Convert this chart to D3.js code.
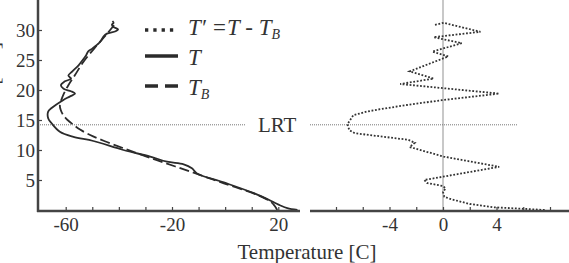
<!DOCTYPE html>
<html><head><meta charset="utf-8">
<script src="https://cdn.jsdelivr.net/npm/d3@7"></script>
<style>
html,body{margin:0;padding:0;background:#fff;}
svg{display:block;}
</style></head>
<body>
<script>
// ---- data ----
// Observed temperature T [C] vs height [km]
const heightT = [0,0.3,0.8,1.3,2.8,4.6,6.1,6.95,7.6,8.05,8.9,10.0,11.5,12.2,13.05,14.45,15.3,16.4,17.0,18.3,18.9,19.4,19.8,20.2,20.8,21.4,21.9,22.4,23.1,24.2,25.0,25.8,26.4,26.9,27.8,28.3,28.9,29.4,29.8,30.1,30.5,30.9,31.2,31.5];
const tempT   = [27.2,23.4,20.6,18.3,10.8,-0.5,-10.6,-12.5,-15.6,-21.9,-28.2,-38.3,-49.6,-57.1,-62.2,-65.3,-66.6,-66.6,-65.3,-61.0,-58.5,-56.5,-58.0,-60.8,-61.8,-60.5,-58.0,-59.0,-57.5,-55.0,-53.6,-52.3,-51.6,-50.0,-47.5,-46.6,-45.8,-44.5,-41.2,-40.3,-42.0,-42.6,-42.0,-42.4];
// Background temperature T_B [C]
const heightTB = [0,0.7,1.4,2.5,4.45,6.4,8.3,10.3,11.5,12.5,13.4,14.2,15.0,15.8,16.7,17.5,18.4,19.2,20.8,22.5,24.7,26.9,29.2,30.8];
const tempTB   = [19.6,18.6,17.1,12.1,-0.5,-13.1,-25.7,-38.3,-45.5,-50.8,-54.6,-57.1,-59.3,-60.9,-61.9,-62.2,-61.6,-60.9,-59.0,-56.5,-53.3,-49.3,-44.8,-41.8];
// Perturbation T' = T - T_B [C]
const heightTp = [0,0.2,0.45,1.0,1.8,2.2,3.0,3.6,4.0,4.5,5.0,7.2,8.9,10.5,11.2,11.7,12.8,13.3,14.3,15.8,16.4,16.8,17.5,18.3,19.4,21.0,21.9,23.1,25.6,26.4,27.8,28.8,29.7,31.2,30.8];
const tempTp   = [7.6,6.0,3.8,2.0,0.6,0.1,0.0,0.2,0.0,-1.2,-1.4,4.2,0.05,-2.5,-2.1,-2.6,-6.6,-7.0,-7.15,-6.7,-5.7,-4.7,-2.7,-0.1,4.2,-3.2,-0.7,-2.5,0.4,-0.8,1.4,-0.7,2.8,0.05,-0.7];
const lrtHeight = 14.2;
// tick values / labels
const leftXTicks = [-60,-50,-40,-30,-20,-10,0,10,20];
const leftXLabels = [-60,-20,20];
const rightXTicks = [-8,-6,-4,-2,0,2,4,6,8];
const rightXLabels = [-4,0,4];
const yTicks = [5,10,15,20,25,30];
const legendNames = ["T′ =T - T", "T", "T"];

// ---- layout ----
const FONT = '"Liberation Serif", Tinos, "Times New Roman", Times, "DejaVu Serif", "Noto Serif", serif';
const W = 569, H = 263;
const svg = d3.select("body").append("svg").attr("width", W).attr("height", H)
  .style("font-family", FONT);

const xL = d3.scaleLinear().domain([-60, 20]).range([65.7, 278.3]);
const xR = d3.scaleLinear().domain([-4, 4]).range([389.5, 496.5]);
const y  = d3.scaleLinear().domain([0, 30]).range([210, 30]);
const axisY = 211;
const ink = "#2b2b2b";
const txt = "#333";

// right panel zero line
svg.append("line").attr("x1", xR(0)).attr("x2", xR(0)).attr("y1", 0).attr("y2", axisY)
  .attr("stroke", "#c8c8c8").attr("stroke-width", 2);

// LRT lines
svg.append("line").attr("x1", 38).attr("x2", 245).attr("y1", y(lrtHeight)).attr("y2", y(lrtHeight))
  .attr("stroke", "#777").attr("stroke-width", 1).attr("stroke-dasharray", "1,1");
svg.append("line").attr("x1", 310).attr("x2", 518).attr("y1", y(lrtHeight)).attr("y2", y(lrtHeight))
  .attr("stroke", "#777").attr("stroke-width", 1).attr("stroke-dasharray", "1,1");
svg.append("text").attr("x", 258).attr("y", 132).attr("font-size", 21)
  .style("font-family", FONT).attr("fill", txt).text("LRT");

// curves
const lineL = d3.line().x(d => xL(d[1])).y(d => y(d[0])).curve(d3.curveCatmullRom.alpha(0.5));
const lineR = d3.line().x(d => xR(d[1])).y(d => y(d[0]));
svg.append("path").datum(d3.zip(heightTB, tempTB)).attr("d", lineL)
  .attr("fill", "none").attr("stroke", ink).attr("stroke-width", 1.8).attr("stroke-dasharray", "10,4");
svg.append("path").datum(d3.zip(heightT, tempT)).attr("d", lineL)
  .attr("fill", "none").attr("stroke", ink).attr("stroke-width", 1.8);
svg.append("path").datum(d3.zip(heightTp, tempTp)).attr("d", lineR)
  .attr("fill", "none").attr("stroke", "#333").attr("stroke-width", 1.8).attr("stroke-dasharray", "1.8,1.7");

// axes
const fmt = labels => d => labels.includes(d) ? String(d) : "";
const gxL = svg.append("g").attr("transform", `translate(0,${axisY})`)
  .call(d3.axisBottom(xL).tickValues(leftXTicks).tickSize(-4).tickPadding(7).tickFormat(fmt(leftXLabels)));
const gxR = svg.append("g").attr("transform", `translate(0,${axisY})`)
  .call(d3.axisBottom(xR).tickValues(rightXTicks).tickSize(-4).tickPadding(7).tickFormat(fmt(rightXLabels)));
const gy = svg.append("g").attr("transform", `translate(38,0)`)
  .call(d3.axisLeft(y).tickValues(yTicks).tickSize(-4).tickPadding(3).tickFormat(d => String(d)));
[gxL, gxR, gy].forEach(g => {
  g.attr("font-family", null).style("font-family", FONT);
  g.select(".domain").remove();
  g.selectAll(".tick line").attr("stroke", "#444").attr("stroke-width", 1.2);
  g.selectAll(".tick text").attr("font-size", 19).attr("fill", txt).style("font-family", FONT);
});
// axis lines
svg.append("line").attr("x1", 38).attr("x2", 38).attr("y1", 0).attr("y2", axisY + 1)
  .attr("stroke", "#444").attr("stroke-width", 2.5);
svg.append("line").attr("x1", 37).attr("x2", 300).attr("y1", axisY).attr("y2", axisY)
  .attr("stroke", "#444").attr("stroke-width", 2.5);
svg.append("line").attr("x1", 310).attr("x2", 569).attr("y1", axisY).attr("y2", axisY)
  .attr("stroke", "#444").attr("stroke-width", 2.5);

// axis titles
svg.append("text").attr("x", 307).attr("y", 259).attr("text-anchor", "middle")
  .attr("font-size", 21).attr("fill", txt).style("font-family", FONT).text("Temperature [C]");
svg.append("text").attr("transform", "translate(-1,42) rotate(-90)").attr("text-anchor", "end")
  .attr("font-size", 22).attr("fill", txt).style("font-family", FONT).text("Altitude [km]");

// legend
const lg = svg.append("g");
const rows = [
  {y: 35, ly: 30, dash: "3.3,5", name: legendNames[0], sub: "B"},
  {y: 65, ly: 56, dash: null, name: legendNames[1], sub: null},
  {y: 95, ly: 86, dash: "13,7", name: legendNames[2], sub: "B"}
];
rows.forEach(r => {
  const l = lg.append("line").attr("x1", 145).attr("x2", 178).attr("y1", r.ly).attr("y2", r.ly)
    .attr("stroke", ink).attr("stroke-width", 3.3);
  if (r.dash) l.attr("stroke-dasharray", r.dash);
  const t = lg.append("text").attr("x", 188).attr("y", r.y).attr("font-size", 23)
    .attr("font-style", "italic").attr("fill", txt).style("font-family", FONT);
  t.append("tspan").text(r.name);
  if (r.sub) t.append("tspan").attr("font-size", 14).attr("dy", 4).text(r.sub);
});
</script>
</body></html>
